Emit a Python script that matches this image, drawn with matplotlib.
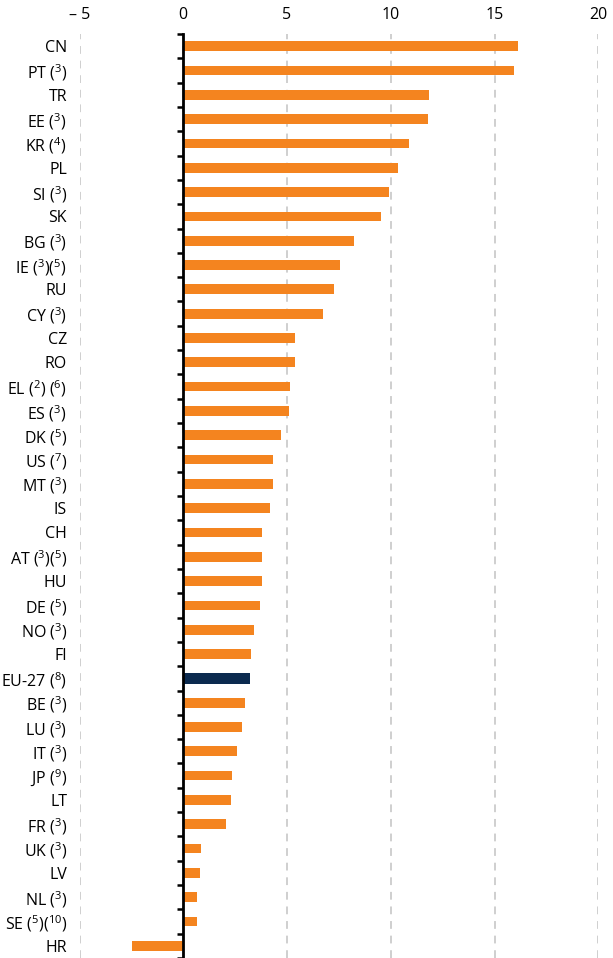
import matplotlib
matplotlib.use("Agg")
import matplotlib.pyplot as plt
import numpy as np

plt.rcParams['font.family'] = ['Open Sans', 'DejaVu Sans']
plt.rcParams['mathtext.fontset'] = 'custom'
plt.rcParams['mathtext.rm'] = 'Open Sans'
plt.rcParams['mathtext.it'] = 'Open Sans:italic'
plt.rcParams['mathtext.bf'] = 'Open Sans:bold'

countries = ["CN", "PT", "TR", "EE", "KR", "PL", "SI", "SK", "BG", "IE", "RU", "CY",
             "CZ", "RO", "EL", "ES", "DK", "US", "MT", "IS", "CH", "AT", "HU", "DE",
             "NO", "FI", "EU-27", "BE", "LU", "IT", "JP", "LT", "FR", "UK", "LV", "NL",
             "SE", "HR"]
notes = ["", "(3)", "", "(3)", "(4)", "", "(3)", "", "(3)", "(3)(5)", "", "(3)",
         "", "", "(2) (6)", "(3)", "(5)", "(7)", "(3)", "", "", "(3)(5)", "", "(5)",
         "(3)", "", "(8)", "(3)", "(3)", "(3)", "(9)", "", "(3)", "(3)", "", "(3)",
         "(5)(10)", ""]
values = [16.15, 15.92, 11.84, 11.78, 10.88, 10.35, 9.90, 9.53, 8.24, 7.57, 7.26, 6.73,
          5.38, 5.38, 5.16, 5.08, 4.69, 4.32, 4.32, 4.18, 3.79, 3.79, 3.79, 3.71,
          3.41, 3.26, 3.21, 2.96, 2.83, 2.59, 2.36, 2.30, 2.06, 0.87, 0.79, 0.65,
          0.65, -2.46]
highlight = "EU-27"
x_ticks = [-5, 0, 5, 10, 15, 20]
x_ticklabels = ["\u2013 5", "0", "5", "10", "15", "20"]

ORANGE = "#F4841F"
NAVY = "#0B2A4F"


def make_label(c, n):
    if not n:
        return c
    out = c + " "
    import re
    parts = re.findall(r"\((\d+)\)|( )", n)
    for num, sp in parts:
        if sp:
            out += " "
        else:
            out += "(" + r"$^{" + num + r"}$" + ")"
    return out


labels = [make_label(c, n) for c, n in zip(countries, notes)]

fig = plt.figure(figsize=(6.13, 9.58), dpi=100)
ax = fig.add_axes([0.1297, 0.0, 0.9760 - 0.1297, 0.9645])

y = np.arange(len(countries))
colors = [NAVY if c == highlight else ORANGE for c in countries]
heights = [0.48 if c == highlight else 0.40 for c in countries]
ax.barh(y, values, height=heights, color=colors, zorder=3)

ax.set_xlim(-5, 20)
ax.set_ylim(len(countries) - 0.5, -0.5)

ax.xaxis.tick_top()
ax.set_xticks(x_ticks)
ax.set_xticklabels(x_ticklabels)
ax.tick_params(axis='x', length=0, pad=8, labelsize=11.5, colors='black')
ax.grid(axis='x', color='#CFCFCF', linestyle=(0, (4, 3.5)), linewidth=1.4, zorder=0)

ax.set_yticks(y)
ax.set_yticklabels(labels)
ax.tick_params(axis='y', length=0, pad=9, labelsize=11.5)

for s in ax.spines.values():
    s.set_visible(False)

# vertical zero line with category separator ticks
sec = ax.secondary_yaxis(5 / 25)
sec.set_yticks(np.arange(len(countries) + 1) - 0.5)
sec.set_yticklabels([])
sec.tick_params(axis='y', direction='out', length=4, width=1.8, left=True, right=False)
sec.spines['left'].set_linewidth(2)
sec.spines['left'].set_color('black')
sec.spines['right'].set_visible(False)
sec.set_zorder(5)

fig.savefig("out.png", dpi=100)
